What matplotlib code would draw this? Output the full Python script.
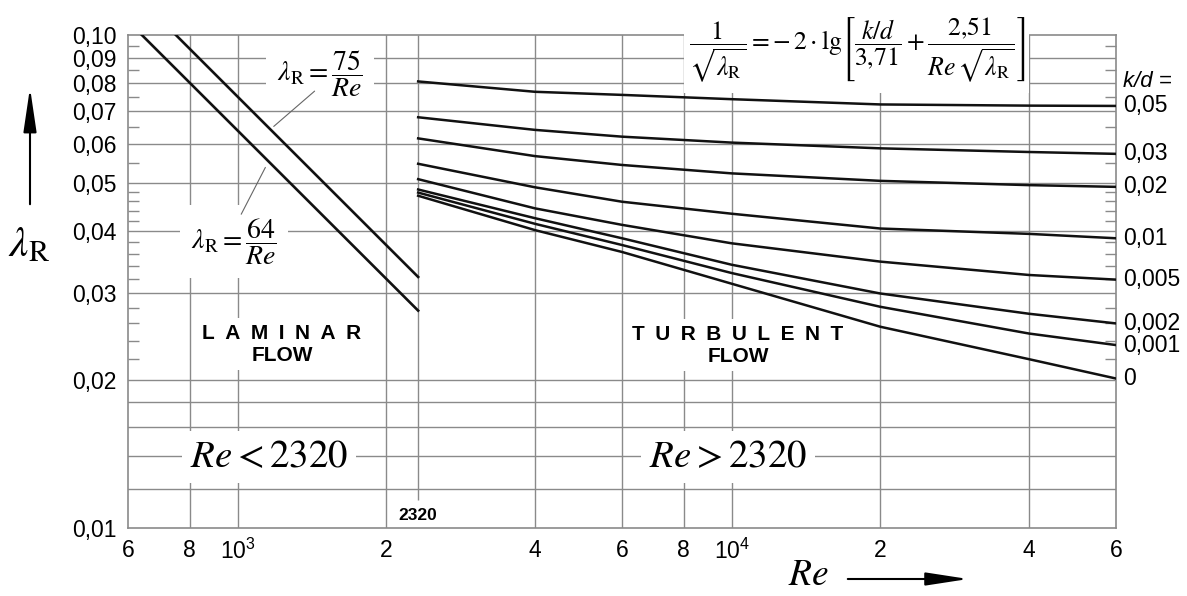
import matplotlib.pyplot as plt
from matplotlib.patches import Rectangle
from matplotlib.ticker import FixedLocator, FixedFormatter, NullFormatter, NullLocator

plt.rcParams['font.family'] = ['Liberation Sans', 'DejaVu Sans']
plt.rcParams['mathtext.fontset'] = 'stix'

# laminar lines (end points)
re_lam64 = [640, 2320]
lam_64 = [0.100, 0.0276]
re_lam75 = [750, 2320]
lam_75 = [0.100, 0.0323]

# turbulent curves, one list per k/d value
re_turb = [2320, 4000, 6000, 10000, 20000, 40000, 60000]
kd_labels = ['0,05', '0,03', '0,02', '0,01', '0,005', '0,002', '0,001', '0']
lam_005 = [0.0805, 0.0767, 0.0756, 0.0741, 0.0723, 0.0719, 0.0718]
lam_003 = [0.0681, 0.0642, 0.0622, 0.0605, 0.0589, 0.0579, 0.0574]
lam_002 = [0.0617, 0.0568, 0.0545, 0.0524, 0.0506, 0.0496, 0.0492]
lam_001 = [0.0548, 0.0491, 0.0459, 0.0434, 0.0405, 0.0395, 0.0387]
lam_0005 = [0.0510, 0.0445, 0.0412, 0.0378, 0.0347, 0.0326, 0.0319]
lam_0002 = [0.0486, 0.0425, 0.0387, 0.0342, 0.0299, 0.0272, 0.0260]
lam_0001 = [0.0479, 0.0414, 0.0375, 0.0329, 0.0281, 0.0248, 0.0235]
lam_0 = [0.0472, 0.0402, 0.0363, 0.0313, 0.0256, 0.0220, 0.0201]
turb_curves = [lam_005, lam_003, lam_002, lam_001, lam_0005, lam_0002, lam_0001, lam_0]

# axis ticks
x_ticks = [600, 800, 1000, 2000, 4000, 6000, 8000, 10000, 20000, 40000, 60000]
x_labels = ['6', '8', r'$\mathregular{10^3}$', '2', '4', '6', '8', r'$\mathregular{10^4}$', '2', '4', '6']
y_ticks = [0.01, 0.02, 0.03, 0.04, 0.05, 0.06, 0.07, 0.08, 0.09, 0.10]
y_labels = ['0,01', '0,02', '0,03', '0,04', '0,05', '0,06', '0,07', '0,08', '0,09', '0,10']
y_minor = [0.022, 0.024, 0.026, 0.028, 0.032, 0.034, 0.036, 0.038,
           0.042, 0.044, 0.046, 0.048, 0.055, 0.065, 0.075, 0.085, 0.095]
h_grid = [0.012, 0.014, 0.016, 0.018, 0.02, 0.03, 0.04, 0.05, 0.06, 0.07, 0.08, 0.09]
v_grid = [800, 1000, 2000, 4000, 6000, 8000, 10000, 20000, 40000]

grid_col = '#8a8a8a'
W, H = 1187, 596

fig = plt.figure(figsize=(W / 100, H / 100), dpi=100)
ax = fig.add_axes([128 / W, 68 / H, 988 / W, 493 / H])
ax.set_xscale('log')
ax.set_yscale('log')
ax.set_xlim(600, 60000)
ax.set_ylim(0.01, 0.1)

# grid drawn by hand (the chart has extra lines below 0.02)
for y in h_grid:
    ax.axhline(y, color=grid_col, lw=1.0, zorder=1)
for x in v_grid:
    ax.axvline(x, color=grid_col, lw=1.0, zorder=1)
ax.vlines(2320, 0.0114, 0.1, color=grid_col, lw=1.0, zorder=1)

# ticks
ax.xaxis.set_major_locator(FixedLocator(x_ticks))
ax.xaxis.set_major_formatter(FixedFormatter(x_labels))
ax.xaxis.set_minor_locator(NullLocator())
ax.yaxis.set_major_locator(FixedLocator(y_ticks))
ax.yaxis.set_major_formatter(FixedFormatter(y_labels))
ax.yaxis.set_minor_locator(FixedLocator(y_minor))
ax.yaxis.set_minor_formatter(NullFormatter())
ax.tick_params(axis='x', which='major', length=0, pad=8, labelsize=16.5)
ax.tick_params(axis='y', which='major', length=0, pad=8, labelsize=16.5)
ax.tick_params(axis='y', which='minor', direction='in', length=8, width=1.0,
               color=grid_col, left=True, right=True)
for s in ax.spines.values():
    s.set_color(grid_col)
    s.set_linewidth(1.2)

# laminar lines
ax.plot(re_lam64, lam_64, color='#111111', lw=1.9, zorder=5)
ax.plot(re_lam75, lam_75, color='#111111', lw=1.9, zorder=5)

# turbulent curves + k/d labels on the right
for lam, lab in zip(turb_curves, kd_labels):
    ax.plot(re_turb, lam, color='#111111', lw=1.8, zorder=5)
    ax.annotate(lab, xy=(re_turb[-1], lam[-1]), xytext=(5, 0), textcoords='offset points',
                va='center', ha='left', fontsize=16.5, annotation_clip=False)
ax.annotate('k/d =', xy=(1.0, 0.0804), xycoords=('axes fraction', 'data'),
            xytext=(5, 0), textcoords='offset points', va='center', ha='left',
            fontsize=16, style='italic', annotation_clip=False)

white = dict(boxstyle='square,pad=0.4', facecolor='white', edgecolor='none')

# laminar formulas with leader lines
ax.text(1468, 0.0834, r'$\lambda_{\mathrm{R}} = \dfrac{75}{Re}$', fontsize=20,
        ha='center', va='center', bbox=white, zorder=4)
ax.text(983, 0.0381, r'$\lambda_{\mathrm{R}} = \dfrac{64}{Re}$', fontsize=20,
        ha='center', va='center', bbox=white, zorder=4)
ax.annotate('', xy=(1172, 0.0647), xytext=(1446, 0.0776),
            arrowprops=dict(arrowstyle='-', color='#666666', lw=0.8), zorder=5)
ax.annotate('', xy=(1011, 0.0428), xytext=(1145, 0.0545),
            arrowprops=dict(arrowstyle='-', color='#666666', lw=0.8), zorder=5)

# flow region texts
ax.text(1230, 0.0236, 'L\u2002A\u2002M\u2002I\u2002N\u2002A\u2002R\nFLOW', fontsize=15,
        fontweight='bold', ha='center', va='center', linespacing=1.2,
        bbox=dict(boxstyle='square,pad=0.25', facecolor='white', edgecolor='none'), zorder=4)
ax.text(10302, 0.0235, 'T\u2002U\u2002R\u2002B\u2002U\u2002L\u2002E\u2002N\u2002T\nFLOW', fontsize=15,
        fontweight='bold', ha='center', va='center', linespacing=1.2,
        bbox=dict(boxstyle='square,pad=0.25', facecolor='white', edgecolor='none'), zorder=4)
ax.text(1158, 0.01393, r'$Re < 2320$', fontsize=28, ha='center', va='center',
        bbox=dict(boxstyle='square,pad=0.2', facecolor='white', edgecolor='none'), zorder=4)
ax.text(9834, 0.01393, r'$Re > 2320$', fontsize=28, ha='center', va='center',
        bbox=dict(boxstyle='square,pad=0.2', facecolor='white', edgecolor='none'), zorder=4)
ax.text(2320, 0.01062, '2320', fontsize=12.5, fontweight='bold', ha='center', va='center', zorder=4)

# Colebrook formula on a white patch over the top border
ax.add_patch(Rectangle((8000, 0.0763), 32000, 0.06, facecolor='white', edgecolor='none',
                       clip_on=False, zorder=3))
fig.text(857 / W, 1 - 50 / H,
         r'$\dfrac{1}{\sqrt{\lambda_{\mathrm{R}}}} = -\,2\cdot\mathrm{lg}\left[\dfrac{k/d}{3{,}71}'
         r' + \dfrac{2{,}51}{Re\,\sqrt{\lambda_{\mathrm{R}}}}\right]$',
         fontsize=18.5, ha='center', va='center', zorder=7)

# axis labels with arrows
fig.text(8 / W, 1 - 245 / H, r'$\lambda_{\mathrm{R}}$', fontsize=31, ha='left', va='center')
ax.annotate('', xy=(30, H - 85), xytext=(30, H - 207), xycoords='figure pixels',
            textcoords='figure pixels',
            arrowprops=dict(arrowstyle='-|>,head_length=1.35,head_width=0.2',
                            color='black', lw=1.5, mutation_scale=20))
fig.text(788 / W, 3 / H, r'$Re$', fontsize=27, ha='left', va='bottom')
ax.annotate('', xy=(971, 17), xytext=(845, 17), xycoords='figure pixels',
            textcoords='figure pixels',
            arrowprops=dict(arrowstyle='-|>,head_length=1.3,head_width=0.2',
                            color='black', lw=1.5, mutation_scale=20))

fig.savefig('out.png', dpi=100, facecolor='white')
